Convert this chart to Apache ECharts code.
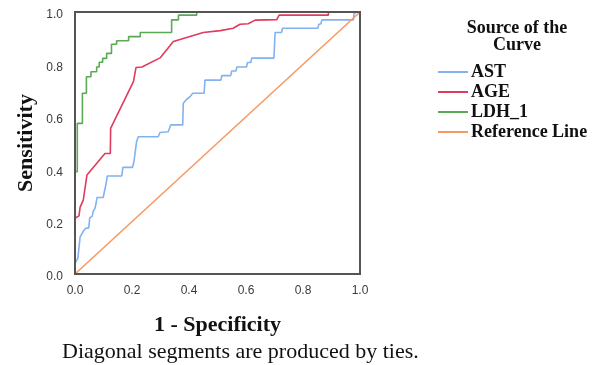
<!DOCTYPE html>
<html>
<head>
<meta charset="utf-8">
<script src="https://cdn.jsdelivr.net/npm/echarts@6/dist/echarts.min.js"></script>
<style>
html,body{margin:0;padding:0;background:#fff;}
#chart{width:603px;height:365px;}
</style>
</head>
<body>
<div id="chart"></div>
<script>
// ROC curves: [1 - Specificity, Sensitivity]
const astCurve = [[0,0],[0,0.041],[0.006,0.041],[0.01,0.06],[0.016,0.06],[0.018,0.142],[0.025,0.148],[0.03,0.165],[0.037,0.174],[0.048,0.176],[0.052,0.215],[0.06,0.22],[0.064,0.239],[0.07,0.251],[0.074,0.27],[0.077,0.292],[0.099,0.292],[0.103,0.314],[0.109,0.344],[0.113,0.374],[0.164,0.374],[0.168,0.407],[0.202,0.407],[0.207,0.43],[0.216,0.505],[0.222,0.524],[0.292,0.524],[0.298,0.54],[0.327,0.543],[0.336,0.569],[0.378,0.569],[0.38,0.652],[0.392,0.667],[0.404,0.677],[0.413,0.69],[0.453,0.69],[0.456,0.74],[0.512,0.74],[0.515,0.757],[0.546,0.757],[0.55,0.775],[0.565,0.775],[0.568,0.79],[0.602,0.79],[0.605,0.807],[0.617,0.807],[0.62,0.824],[0.698,0.824],[0.702,0.922],[0.725,0.922],[0.728,0.938],[0.852,0.938],[0.855,0.952],[0.863,0.955],[0.866,0.97],[0.977,0.97],[0.979,0.994],[0.988,1],[1,1]];
const ageCurve = [[0,0],[0,0.213],[0.004,0.213],[0.014,0.222],[0.018,0.255],[0.029,0.282],[0.042,0.378],[0.105,0.46],[0.124,0.46],[0.125,0.556],[0.205,0.734],[0.214,0.788],[0.235,0.79],[0.3,0.826],[0.345,0.887],[0.45,0.922],[0.51,0.929],[0.555,0.938],[0.579,0.953],[0.608,0.955],[0.632,0.969],[0.708,0.971],[0.716,0.988],[0.889,0.988],[0.889,1],[1,1]];
const ldhCurve = [[0,0],[0,0.39],[0.008,0.39],[0.008,0.575],[0.026,0.575],[0.026,0.69],[0.04,0.69],[0.04,0.753],[0.056,0.753],[0.056,0.772],[0.076,0.772],[0.076,0.79],[0.085,0.79],[0.085,0.808],[0.097,0.808],[0.097,0.823],[0.111,0.823],[0.111,0.842],[0.128,0.842],[0.128,0.877],[0.146,0.877],[0.146,0.89],[0.188,0.89],[0.188,0.906],[0.229,0.906],[0.229,0.922],[0.339,0.922],[0.339,0.97],[0.363,0.97],[0.363,0.988],[0.427,0.988],[0.427,1],[1,1]];
const refCurve = [[0,0],[1,1]];
const seriesNames = ['AST','AGE','LDH_1','Reference Line'];
const seriesColors = ['#82b2f0','#e03a5c','#5aa955','#f69a63'];
const axisTicks = [0,0.2,0.4,0.6,0.8,1.0];
const legendTitle = 'Source of the\nCurve';
const xTitle = '1 - Specificity';
const yTitle = 'Sensitivity';
const footNote = 'Diagonal segments are produced by ties.';

const curves = [astCurve, ageCurve, ldhCurve, refCurve];
const chart = echarts.init(document.getElementById('chart'), null, {renderer:'canvas'});
const serif = '"Liberation Serif","Times New Roman",serif';
const sans = '"Liberation Sans",Arial,sans-serif';
const axisCommon = {
  type:'value', min:axisTicks[0], max:axisTicks[axisTicks.length-1], interval:0.2, z:10,
  axisLine:{show:true, lineStyle:{color:'#555', width:2}},
  axisTick:{show:false},
  splitLine:{show:false},
  nameTextStyle:{fontFamily:serif, fontWeight:'bold', fontSize:22, color:'#111'}
};
chart.setOption({
  animation:false,
  backgroundColor:'#fff',
  color: seriesColors,
  grid:{left:75, right:243, top:12, bottom:91, show:true, borderColor:'#555', borderWidth:2, z:10},
  title:{
    text: legendTitle, left:517, top:20, textAlign:'center', padding:0,
    textStyle:{fontFamily:serif, fontWeight:'bold', fontSize:18, lineHeight:17, color:'#111'}
  },
  legend:{
    orient:'vertical', left:438, top:63, padding:0, icon:'rect', itemWidth:30, itemHeight:2, itemGap:2,
    data: seriesNames,
    textStyle:{fontFamily:serif, fontWeight:'bold', fontSize:18, lineHeight:18, color:'#111', padding:[0,0,0,-2]}
  },
  xAxis: Object.assign({}, axisCommon, {
    name: xTitle, nameLocation:'middle', nameGap:40,
    axisLabel:{fontFamily:sans, fontSize:12, color:'#3a3a3a', margin:11, formatter:v=>v.toFixed(1)}
  }),
  yAxis: Object.assign({}, axisCommon, {
    name: yTitle, nameLocation:'middle', nameGap:38,
    axisLabel:{fontFamily:sans, fontSize:12, color:'#3a3a3a', margin:12, verticalAlign:'top', padding:[-3,0,0,0], formatter:v=>v.toFixed(1)}
  }),
  graphic:[{
    type:'text', left:62, top:341,
    style:{text: footNote, font:'22px "Liberation Serif", serif', fill:'#111'}
  }],
  series: curves.map((c,i)=>({
    name: seriesNames[i], type:'line', data:c, showSymbol:false, symbol:'none',
    lineStyle:{color:seriesColors[i], width:1.6}, itemStyle:{color:seriesColors[i]},
    z:2
  }))
});
</script>
</body>
</html>
